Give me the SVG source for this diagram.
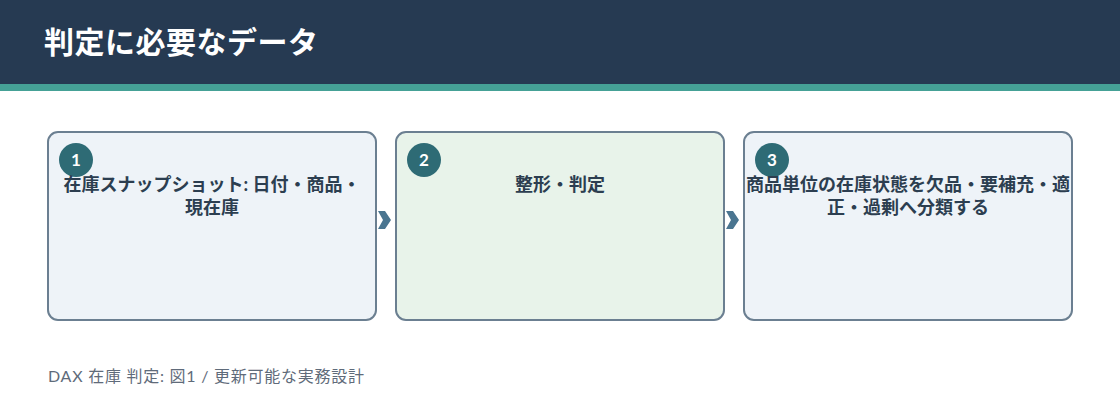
<svg xmlns="http://www.w3.org/2000/svg" width="1120" height="420" viewBox="0 0 1120 420">
<style>
.cjk{font-family:"Lato","Noto Sans CJK JP",sans-serif}
.box{stroke:#6b7f91;stroke-width:2}
.blue{fill:#eef3f8}
.green{fill:#e8f3ea}
.badge{fill:#2e6b75}
.num{font-family:"Lato","Noto Sans CJK JP",sans-serif;font-size:17px;font-weight:700;fill:#ffffff;text-anchor:middle}
.lbl{font-size:18px;font-weight:700;fill:#2c3e50;text-anchor:middle}
.conn{stroke:#4a7590;stroke-width:3;fill:none}
</style>
<defs>
<marker id="arr" viewBox="0 0 13 18" refX="13" refY="9" markerWidth="13" markerHeight="18" markerUnits="userSpaceOnUse" orient="auto">
<path d="M0,0 L7,0 L13,9 L7,18 L0,18 L5,9 Z" fill="#4a7590"/>
</marker>
</defs>
<rect x="0" y="0" width="1120" height="84" fill="#263a52"/>
<rect x="0" y="84" width="1120" height="7" fill="#45a196"/>
<text x="44" y="53" class="cjk" font-size="30" font-weight="700" fill="#ffffff" letter-spacing="0.5">判定に必要なデータ</text>

<g id="connectors">
<path class="conn" d="M378,220 L391,220" stroke-opacity="0" marker-end="url(#arr)"/>
<path class="conn" d="M726,220 L739,220" stroke-opacity="0" marker-end="url(#arr)"/>
</g>

<g id="node1">
<rect class="box blue" x="48" y="132" width="328" height="188" rx="10"/>
<circle class="badge" cx="76" cy="160" r="17"/>
<text class="num" x="76" y="166">1</text>
<text class="cjk lbl" x="212" y="191">在庫スナップショット: 日付・商品・</text>
<text class="cjk lbl" x="212" y="214">現在庫</text>
</g>

<g id="node2">
<rect class="box green" x="396" y="132" width="328" height="188" rx="10"/>
<circle class="badge" cx="424" cy="160" r="17"/>
<text class="num" x="424" y="166">2</text>
<text class="cjk lbl" x="560" y="191">整形・判定</text>
</g>

<g id="node3">
<rect class="box blue" x="744" y="132" width="328" height="188" rx="10"/>
<circle class="badge" cx="772" cy="160" r="17"/>
<text class="num" x="772" y="166">3</text>
<text class="cjk lbl" x="908" y="191">商品単位の在庫状態を欠品・要補充・適</text>
<text class="cjk lbl" x="908" y="214">正・過剰へ分類する</text>
</g>

<text x="48" y="382" class="cjk" font-size="16" fill="#5f6b7a" letter-spacing="0.75">DAX 在庫 判定: 図1 / 更新可能な実務設計</text>
</svg>
